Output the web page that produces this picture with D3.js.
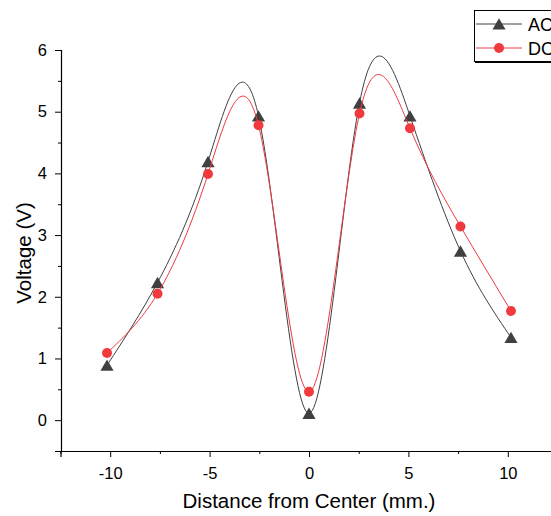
<!DOCTYPE html>
<html>
<head>
<meta charset="utf-8">
<script src="https://cdn.jsdelivr.net/npm/d3@7"></script>
<style>
  body { margin: 0; background: #fff; }
  svg { display: block; font-family: Arial, "Liberation Sans", sans-serif; }
</style>
</head>
<body>
<script>
// distance in mm (0.1 inch steps)
const distance = [-10.16, -7.62, -5.08, -2.54, 0, 2.54, 5.08, 7.62, 10.16];
const acVolts = [0.89, 2.23, 4.19, 4.93, 0.11, 5.14, 4.93, 2.74, 1.34];
const dcVolts = [1.09, 2.05, 3.99, 4.78, 0.46, 4.97, 4.73, 3.14, 1.77];
const xTicks = [-10, -5, 0, 5, 10];
const yTicks = [0, 1, 2, 3, 4, 5, 6];

const W = 551, H = 516;
const svg = d3.select("body").append("svg").attr("width", W).attr("height", H);

const x = d3.scaleLinear().domain([-12.5, 12.5]).range([60.5, 557.5]);
const y = d3.scaleLinear().domain([-0.5, 6]).range([451, 50]);

// axes
const xAxis = svg.append("g").attr("transform", "translate(0,451)");
xAxis.call(d3.axisBottom(x).tickValues(xTicks).tickSize(6).tickPadding(10).tickFormat(d => String(d)));
xAxis.append("g").call(d3.axisBottom(x).tickValues(d3.range(-12.5, 13, 5)).tickSize(3).tickFormat(""))
  .select(".domain").remove();

const yAxis = svg.append("g").attr("transform", "translate(61,0)");
yAxis.call(d3.axisLeft(y).tickValues(yTicks).tickSize(6).tickPadding(8).tickFormat(d => String(d)));
yAxis.append("g").call(d3.axisLeft(y).tickValues(d3.range(-0.5, 6, 1)).tickSize(3).tickFormat(""))
  .select(".domain").remove();

svg.selectAll(".domain").attr("stroke", "#000").attr("stroke-width", 1.2);
svg.selectAll(".tick line").attr("stroke", "#000");
svg.selectAll(".tick text").attr("font-size", 16.5).attr("fill", "#000")
  .attr("font-family", "Arial, 'Liberation Sans', sans-serif");

svg.append("text").attr("x", 309).attr("y", 508).attr("text-anchor", "middle")
  .attr("font-size", 20.5).text("Distance from Center (mm.)");
svg.append("text").attr("transform", "translate(31,253) rotate(-90)").attr("text-anchor", "middle")
  .attr("font-size", 20.5).text("Voltage (V)");

// series (triangle nudged so its box, not its centroid, sits on the point)
const series = [
  { name: "AC", values: acVolts, color: "#404040", shape: d3.symbolTriangle, size: 75, dy: 1.8 },
  { name: "DC", values: dcVolts, color: "#f03a3e", shape: d3.symbolCircle, size: 78, dy: 0 }
];

const line = d3.line().x(d => x(d[0])).y(d => y(d[1])).curve(d3.curveNatural);

series.forEach(s => {
  const pts = distance.map((d, i) => [d, s.values[i]]);
  svg.append("path").attr("d", line(pts)).attr("fill", "none")
    .attr("stroke", s.color).attr("stroke-width", 1);
  svg.append("g").selectAll("path").data(pts).enter().append("path")
    .attr("transform", d => `translate(${x(d[0])},${y(d[1]) + s.dy})`)
    .attr("d", d3.symbol().type(s.shape).size(s.size))
    .attr("fill", s.color);
});

// legend
const lg = svg.append("g");
lg.append("rect").attr("x", 474.5).attr("y", 10.5).attr("width", 100).attr("height", 51)
  .attr("fill", "#fff").attr("stroke", "#000").attr("stroke-width", 1);
lg.append("line").attr("x1", 475).attr("x2", 580).attr("y1", 62.5).attr("y2", 62.5)
  .attr("stroke", "#000").attr("stroke-width", 1);
series.forEach((s, i) => {
  const yy = 24 + i * 24;
  lg.append("line").attr("x1", 476).attr("x2", 522).attr("y1", yy).attr("y2", yy)
    .attr("stroke", s.color).attr("stroke-width", 1);
  lg.append("path").attr("transform", `translate(499,${yy + s.dy})`)
    .attr("d", d3.symbol().type(s.shape).size(s.size)).attr("fill", s.color);
  lg.append("text").attr("x", 528).attr("y", yy + 6.5).attr("font-size", 18).text(s.name);
});
</script>
</body>
</html>
